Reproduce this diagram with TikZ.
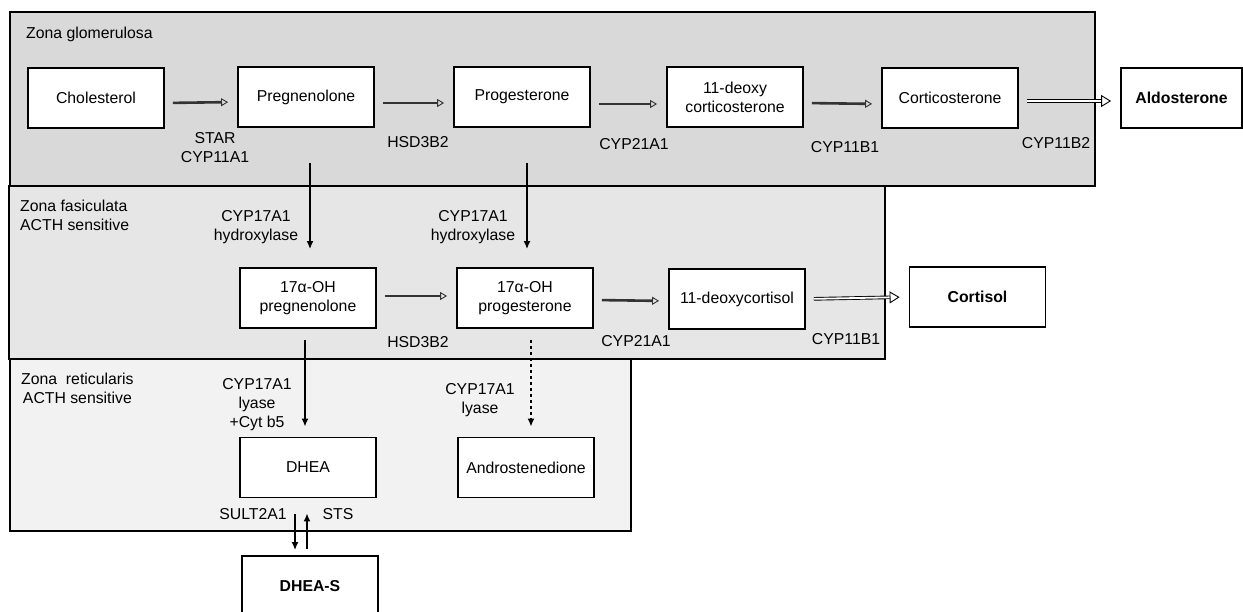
\documentclass[tikz,border=0pt]{standalone}
\usepackage{fontspec}
\setmainfont{Liberation Sans}
\usetikzlibrary{arrows.meta, positioning}
\tikzset{>=Latex}

\begin{document}
\begin{tikzpicture}[x=1pt, y=-1pt, font=\fontsize{15.8}{19}\selectfont,
        stepbox/.style={draw, line width=1.8pt, fill=white, minimum width=136pt, minimum height=60pt, align=center, inner sep=0pt},
        zone/.style={draw, line width=1.8pt},
        conv/.style={draw=black!80, line width=2.6pt, shorten <=8pt, shorten >=9pt, -{Triangle[open, length=7pt, width=8pt, line width=0.9pt]}},
        convbig/.style={draw=black, line width=0.9pt, double=white, double distance=1.8pt, shorten <=8pt, shorten >=9pt, -{Triangle[open, length=10pt, width=12pt]}},
        path/.style={line width=2.6pt, -{Latex[length=8pt, width=7pt]}},
        minor/.style={path, dash pattern=on 3pt off 3pt},
        lbl/.style={align=center, inner sep=0pt}]

        \useasboundingbox (0,0) rectangle (1243,612);

        % zones
        \draw[zone, fill={rgb,255:red,217;green,217;blue,217}] (10,12) rectangle (1095,186);
        \draw[zone, fill={rgb,255:red,230;green,230;blue,230}] (9,186) rectangle (885,359);
        \draw[zone, fill={rgb,255:red,242;green,242;blue,242}] (10,359) rectangle (631,531);

        \node[anchor=west, inner sep=0pt] (zg) at (26,34) {Zona glomerulosa};
        \node[anchor=west, align=left, inner sep=0pt] (zf) at (20,215) {Zona fasiculata\\ACTH sensitive};
        \node[anchor=west, align=center, inner sep=0pt] (zr) at (21,388) {Zona\ \ reticularis\\ACTH sensitive};

        % steroids
        \node[stepbox] (chol) at (96,98) {Cholesterol};
        \node[stepbox] (preg) at (306,97) {Pregnenolone};
        \node[stepbox] (prog) at (522,97) {Progesterone};
        \node[stepbox] (doc) at (735,97) {11-deoxy\\corticosterone};
        \node[stepbox] (cort) at (950,98) {Corticosterone};
        \node[stepbox, minimum width=121pt] (aldo) at (1181.5,98) {\bfseries Aldosterone};

        \node[stepbox] (ohpreg) at (308,298) {17α-OH\\pregnenolone};
        \node[stepbox] (ohprog) at (525,298) {17α-OH\\progesterone};
        \node[stepbox] (doxcort) at (737,299) {11-deoxycortisol};
        \node[stepbox] (cortisol) at (977.5,297) {\bfseries Cortisol};

        \node[stepbox] (dhea) at (308,467.5) {DHEA};
        \node[stepbox] (andro) at (526,467.5) {Androstenedione};
        \node[stepbox] (dheas) at (310,586) {\bfseries DHEA-S};

        % conversions
        \draw[conv] ([yshift=-5pt]chol.east) -- ([yshift=-5pt]preg.west);
        \draw[conv] ([yshift=-6pt]preg.east) -- ([yshift=-6pt]prog.west);
        \draw[conv] ([yshift=-7pt]prog.east) -- ([yshift=-7pt]doc.west);
        \draw[conv] ([yshift=-6pt]doc.east) -- ([yshift=-6pt]cort.west);
        \draw[convbig] ([yshift=-3pt]cort.east) -- ([yshift=-3pt]aldo.west);

        \draw[conv] ([yshift=2pt]ohpreg.east) -- ([yshift=2pt]ohprog.west);
        \draw[conv] ([yshift=-2pt]ohprog.east) -- ([yshift=-2pt]doxcort.west);
        \draw[convbig] (doxcort.east) -- (cortisol.west);

        \draw[path, shorten <=35pt, shorten >=18pt] ([xshift=2pt]ohpreg.north |- preg.south) -- ([xshift=2pt]ohpreg.north);
        \draw[path, shorten <=35pt, shorten >=18pt] ([xshift=2pt]ohprog.north |- prog.south) -- ([xshift=2pt]ohprog.north);
        \draw[path, shorten <=11pt, shorten >=10pt] ([xshift=-3pt]dhea.north |- ohpreg.south) -- ([xshift=-3pt]dhea.north);
        \draw[minor, shorten <=11pt, shorten >=10pt] ([xshift=5pt]andro.north |- ohprog.south) -- ([xshift=5pt]andro.north);
        \draw[path, shorten <=16pt, shorten >=5pt] ([xshift=-15pt]dheas.north |- dhea.south) -- ([xshift=-15pt]dheas.north);
        \draw[path, shorten <=6pt, shorten >=15pt] ([xshift=-3pt]dheas.north) -- ([xshift=-3pt]dheas.north |- dhea.south);

        % enzymes
        \node[lbl] (star) at (215,148) {STAR\\CYP11A1};
        \node[lbl] (hsda) at (418,142) {HSD3B2};
        \node[lbl] (cypa) at (634,144) {CYP21A1};
        \node[lbl] (cypb) at (845,147) {CYP11B1};
        \node[lbl] (cypc) at (1056,143) {CYP11B2};

        \node[lbl] (hyda) at (256,227) {CYP17A1\\hydroxylase};
        \node[lbl] (hydb) at (473,227) {CYP17A1\\hydroxylase};
        \node[lbl] (hsdb) at (418,342) {HSD3B2};
        \node[lbl] (cypd) at (636,341) {CYP21A1};
        \node[lbl] (cype) at (846,339) {CYP11B1};

        \node[lbl] (lysa) at (257,405) {CYP17A1\\lyase\\+Cyt b5};
        \node[lbl] (lysb) at (480,400) {CYP17A1\\lyase};
        \node[lbl] (sult) at (253,514) {SULT2A1};
        \node[lbl] (sts) at (338,514) {STS};
\end{tikzpicture}
\end{document}
